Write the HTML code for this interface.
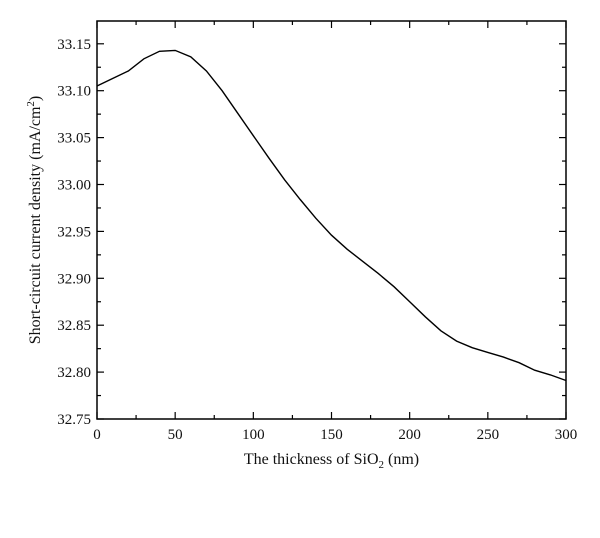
<!DOCTYPE html>
<html><head><meta charset="utf-8"><style>
body{margin:0;background:#fff;}
svg text{font-family:"Liberation Serif",serif;fill:#111;}
</style></head><body>
<svg width="600" height="533" viewBox="0 0 600 533" id="c">
<rect x="0" y="0" width="600" height="533" fill="#fff"/>
</svg>
<script>
const xValues=[0,10,20,30,40,50,60,70,80,90,100,110,120,130,140,150,160,170,180,190,200,210,220,230,240,250,260,270,280,290,300];
const yValues=[33.105,33.113,33.121,33.134,33.142,33.143,33.136,33.121,33.100,33.076,33.052,33.028,33.005,32.984,32.964,32.946,32.931,32.918,32.905,32.891,32.875,32.859,32.844,32.833,32.826,32.821,32.816,32.810,32.802,32.797,32.791];
const xTicks=[0,50,100,150,200,250,300];
const yTicks=[32.75,32.80,32.85,32.90,32.95,33.00,33.05,33.10,33.15];
const L=97,R=566,T=21,B=419;
const sx=v=>L+(v-0)/300*(R-L);
const sy=v=>B-(v-32.75)/0.05*46.9;
const svg=document.getElementById('c');
const NS='http://www.w3.org/2000/svg';
function mk(tag,attrs){const e=document.createElementNS(NS,tag);for(const k in attrs)e.setAttribute(k,attrs[k]);svg.appendChild(e);return e;}
let f=mk('rect',{x:L,y:T,width:R-L,height:B-T,fill:'none',stroke:'#000','stroke-width':1.5});


for(let v=0;v<=300;v+=25){
  const x=sx(v),len=(v%50===0)?7:4;
  let t=mk('line',{x1:x,y1:B,x2:x,y2:B-len,stroke:'#000','stroke-width':1.2});
  
  
  let t2=mk('line',{x1:x,y1:T,x2:x,y2:T+len,stroke:'#000','stroke-width':1.2});
  
  
}
xTicks.forEach(v=>{
  let tx=mk('text',{x:sx(v),y:B+20,'text-anchor':'middle','font-size':15});
  tx.textContent=v;
  
  
});
for(let i=0;i<=17;i++){
  const v=32.75+i*0.025,y=sy(v);
  if(y<T)break;
  const len=(i%2===0)?7:4;
  let t=mk('line',{x1:L,y1:y,x2:L+len,y2:y,stroke:'#000','stroke-width':1.2});
  
  
  let t2=mk('line',{x1:R,y1:y,x2:R-len,y2:y,stroke:'#000','stroke-width':1.2});
  
  
}
yTicks.forEach(v=>{
  let tx=mk('text',{x:L-6,y:sy(v)+5,'text-anchor':'end','font-size':15});
  tx.textContent=v.toFixed(2);
  
  
});
let d=xValues.map((x,i)=>(i?'L':'M')+sx(x).toFixed(1)+','+sy(yValues[i]).toFixed(1)).join(' ');
let p=mk('path',{d:d,fill:'none',stroke:'#000','stroke-width':1.4});


let xt=mk('text',{x:(L+R)/2,y:B+45,'text-anchor':'middle','font-size':16});
xt.innerHTML='The thickness of SiO<tspan font-size="11" dy="4">2</tspan><tspan dy="-4"> (nm)</tspan>';


let yt=mk('text',{x:0,y:0,'text-anchor':'middle','font-size':16,transform:'translate(40,'+((T+B)/2)+') rotate(-90)'});
yt.innerHTML='Short-circuit current density (mA/cm<tspan font-size="11" dy="-6">2</tspan><tspan dy="6">)</tspan>';


</script>
</body></html>
